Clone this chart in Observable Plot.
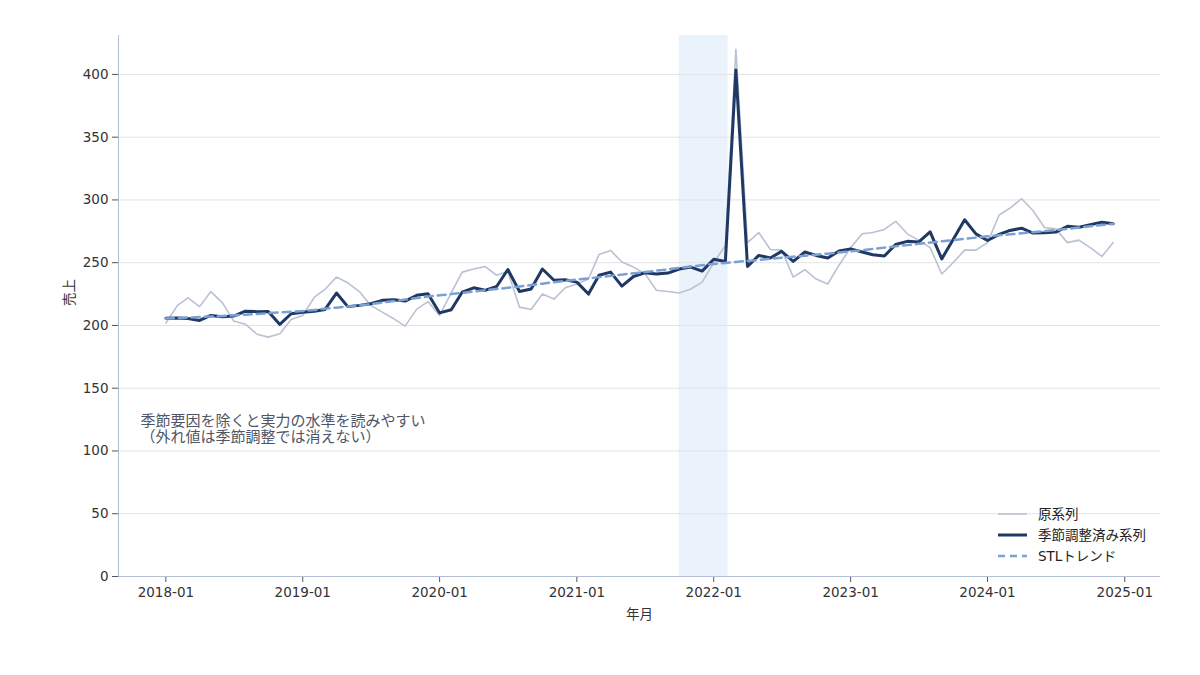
<!DOCTYPE html>
<html>
<head>
<meta charset="utf-8">
<script src="https://cdn.jsdelivr.net/npm/d3@7"></script>
<script src="https://cdn.jsdelivr.net/npm/@observablehq/plot@0.6"></script>
<style>
  body { margin: 0; background: #fff; }
  #chart svg { display: block; }
</style>
</head>
<body>
<div id="chart"></div>
<script>
// ---- data ----
const startMonth = "2018-01";
const raw = [202,216,222,215,227,218,203.5,201,193,190.7,193.4,204.8,
  208,222.5,228.7,238.5,234,227,216,210.6,205.3,199.5,213,219,
  208,226,242.5,245,247,240,243,214.6,212.7,225,221,230,
  233,237,256.6,259.8,250.5,246.5,241.5,228,227,225.8,229,234.5,
  250,263.7,420,266,274,260.5,260,238.5,244.4,237,233,248,
  262,273,274,276.5,283,273,268,262,241,250,260,260,
  266,288,293.5,301,291.6,278,277,266,268,262,255,266];
const seasAdj = [205.8,206,205.5,204,208,207,207.5,211.4,211,211.2,200.8,209.3,
  210.6,211.4,212.7,225.8,215,216,217.3,220,220.5,219.4,224,225.3,
  210,212.5,226.5,230,228,231,244.6,227,229,245,236,236.4,
  234.5,225,240,242.5,231.3,239,242,241,241.7,245,246.5,243.3,
  252.8,251,403.5,247,255.8,253.8,259,251,258.5,255.8,253.8,259.3,
  261,258.5,256.3,255.3,264.5,267,266.4,274.6,253,268.3,284.2,273,
  267.7,272.5,275.7,277.5,273.6,273.8,274.4,279,278.3,280.2,282.3,281];
const trend = [205.5,205.9,206.3,206.7,207.1,207.5,208,208.6,209.2,209.8,210.4,211,
  211.5,212.4,213.3,214.2,215.1,216,217,218.2,219.4,220.6,221.8,223,
  224,225,226,227,228,229,230,231.1,232.2,233.3,234.4,235.5,
  236.5,237.5,238.5,239.5,240.5,241.5,242.5,243.6,244.7,245.8,246.9,248,
  249,249.8,250.6,251.4,252.2,253.1,254,254.8,255.6,256.4,257.2,258.1,
  259,260,261,262,263,264,265,266,267,268,269,270,
  271,271.8,272.6,273.4,274.2,275.1,276,277,278,279,280,281];
const highlight = { from: "2021-10-01", to: "2022-02-08" };
const xTickLabels = ["2018-01","2019-01","2020-01","2021-01","2022-01","2023-01","2024-01","2025-01"];
const yTicks = [0,50,100,150,200,250,300,350,400];
const seriesNames = ["原系列","季節調整済み系列","STLトレンド"];
const note = ["季節要因を除くと実力の水準を読みやすい", "（外れ値は季節調整では消えない）"];

// ---- build table ----
const t0 = new Date(startMonth + "-01T00:00:00Z");
const months = raw.map((_, i) => d3.utcMonth.offset(t0, i));
const rows = months.map((date, i) => ({date, raw: raw[i], sa: seasAdj[i], trend: trend[i]}));
const ext = d3.extent(months);
const span = ext[1] - ext[0];
const xDomain = [new Date(+ext[0] - span * 0.05), new Date(+ext[1] + span * 0.05)];
const xTicks = xTickLabels.map(s => new Date(s + "-01T00:00:00Z"));

const colors = {raw: "#b8c2d3", sa: "#1f3864", trend: "#7aa0d4"};
const font = "'DejaVu Sans', 'Noto Sans CJK JP', sans-serif";

const plot = Plot.plot({
  width: 1200,
  height: 675,
  marginLeft: 118,
  marginRight: 40,
  marginTop: 35,
  marginBottom: 99,
  style: {fontFamily: font, fontSize: "13.5px", color: "#333", background: "#fff"},
  x: {type: "utc", domain: xDomain, label: null},
  y: {domain: [0, 431], label: null},
  marks: [
    Plot.rect([highlight], {x1: d => new Date(d.from + "T00:00:00Z"), x2: d => new Date(d.to + "T00:00:00Z"), fill: "#eaf2fb"}),
    Plot.gridY(yTicks, {stroke: "#e3e3e3", strokeOpacity: 1, strokeWidth: 1}),
    Plot.axisY(yTicks, {tickSize: 6, tickPadding: 4, stroke: "#555", label: null}),
    Plot.axisX(xTicks, {tickSize: 6, tickPadding: 5, stroke: "#555", tickFormat: d3.utcFormat("%Y-%m"), label: null}),
    Plot.ruleX([xDomain[0]], {stroke: "#b3bfd3", strokeWidth: 1}),
    Plot.ruleY([0], {stroke: "#b3bfd3", strokeWidth: 1}),
    Plot.lineY(rows, {x: "date", y: "raw", stroke: colors.raw, strokeWidth: 1.6}),
    Plot.lineY(rows, {x: "date", y: "sa", stroke: colors.sa, strokeWidth: 3}),
    Plot.lineY(rows, {x: "date", y: "trend", stroke: colors.trend, strokeWidth: 2.5, strokeDasharray: "8,5"}),
    Plot.text([note.join("\n")], {frameAnchor: "top-left", dx: 22, dy: 378, textAnchor: "start", lineAnchor: "top", fill: "#4f5667", fontSize: 15, lineHeight: 1.13}),
    Plot.text(["年月"], {frameAnchor: "bottom", dy: 42, fill: "#333", fontSize: 13.5}),
    Plot.text(["売上"], {frameAnchor: "left", dx: -49, rotate: -90, fill: "#333", fontSize: 13.5})
  ]
});

// legend (inside plot, bottom-right)
const svg = d3.select(plot);
const leg = svg.append("g").attr("font-family", font).attr("font-size", 13.5).attr("fill", "#222").attr("text-anchor", "start");
const legStyles = [
  {stroke: colors.raw, w: 1.6, dash: null},
  {stroke: colors.sa, w: 3, dash: null},
  {stroke: colors.trend, w: 2.5, dash: "7,5"}
];
seriesNames.forEach((name, i) => {
  const y = 514 + i * 21;
  const ln = leg.append("line").attr("x1", 998).attr("x2", 1027).attr("y1", y).attr("y2", y)
    .attr("stroke", legStyles[i].stroke).attr("stroke-width", legStyles[i].w);
  if (legStyles[i].dash) ln.attr("stroke-dasharray", legStyles[i].dash);
  leg.append("text").attr("x", 1038).attr("y", y).attr("dy", "0.35em").attr("text-anchor", "start").text(name);
});

document.getElementById("chart").appendChild(plot);
</script>
</body>
</html>
